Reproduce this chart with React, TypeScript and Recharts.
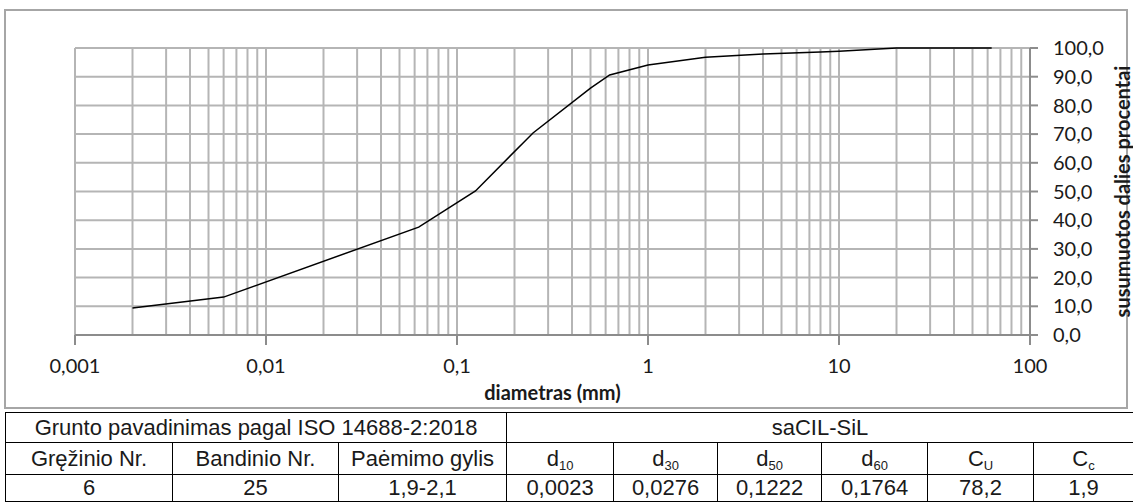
import {
  LineChart,
  Line,
  XAxis,
  YAxis,
  CartesianGrid,
  ReferenceLine,
} from "recharts";

// grain size (mm) and cumulative passing (%)
const sizes = [0.002, 0.006, 0.063, 0.125, 0.25, 0.5, 0.63, 1, 2, 4, 8, 10, 20, 63];
const passing = [9.4, 13.2, 37.6, 50.2, 70.4, 86.0, 90.6, 94.1, 96.8, 97.9, 98.6, 98.9, 100, 100];

const xTicks = [0.001, 0.01, 0.1, 1, 10, 100];
const yTicks = [0, 10, 20, 30, 40, 50, 60, 70, 80, 90, 100];

const tableTitle = "Grunto pavadinimas pagal ISO 14688-2:2018";
const soilName = "saCIL-SiL";
const headMain = ["Gręžinio Nr.", "Bandinio Nr.", "Paėmimo gylis"];
const headParams = [
  ["d", "10"],
  ["d", "30"],
  ["d", "50"],
  ["d", "60"],
  ["C", "U"],
  ["C", "c"],
];
const rowValues = ["6", "25", "1,9-2,1", "0,0023", "0,0276", "0,1222", "0,1764", "78,2", "1,9"];
const colWidths = [167, 166, 168, 107, 104, 104, 106, 106, 100];

const data = sizes.map((d, i) => ({ d, p: passing[i] }));

// minor grid values 1..9 x 10^k for the log axis
const gridValues: number[] = [];
xTicks.slice(0, -1).forEach((dec) => {
  for (let m = 1; m <= 9; m++) gridValues.push(+(dec * m).toPrecision(3));
});

const fmtX = (v: number) => String(v).replace(".", ",");
const fmtY = (v: number) => v.toFixed(1).replace(".", ",");

const GRID = "#b5b5b5";
const AXIS = "#8c8c8c";
const TXT = "#1a1a1a";

const YTitle = (props: any) => {
  const vb = props.viewBox || {};
  const cx = vb.x + vb.width - 8;
  const cy = vb.y + vb.height / 2;
  return (
    <text
      x={cx}
      y={cy}
      transform={`rotate(-90, ${cx}, ${cy})`}
      textAnchor="middle"
      dominantBaseline="central"
      fontFamily="Lato"
      fontWeight="bold"
      fontSize={20}
      fill={TXT}
    >
      susumuotos dalies procentai
    </text>
  );
};

const cell: React.CSSProperties = {
  border: "1.5px solid #000",
  textAlign: "center",
  padding: 0,
  whiteSpace: "nowrap",
  lineHeight: "24px",
};

const subStyle: React.CSSProperties = { fontSize: 13, verticalAlign: "-4px", lineHeight: 0 };

export default function App() {
  return (
    <div
      style={{
        position: "absolute",
        left: 0,
        top: 0,
        width: 1133,
        height: 502,
        background: "#fff",
        overflow: "hidden",
      }}
    >
      <div
        style={{
          position: "absolute",
          left: 4,
          top: 9,
          width: 1124,
          height: 400,
          border: "2px solid #a6a6a6",
          boxSizing: "border-box",
        }}
      />
      <div style={{ position: "absolute", left: 0, top: 0 }}>
        <LineChart
          width={1133}
          height={409}
          data={data}
          margin={{ top: 48, left: 75, right: 3, bottom: 4 }}
        >
          <CartesianGrid stroke={GRID} strokeWidth={2} vertical={false} />
          {gridValues.map((v) => (
            <ReferenceLine key={v} x={v} stroke={GRID} strokeWidth={2} />
          ))}
          <XAxis
            dataKey="d"
            type="number"
            scale="log"
            domain={[0.001, 100]}
            ticks={xTicks}
            allowDataOverflow
            height={70}
            tickSize={10}
            tickMargin={14}
            tickFormatter={fmtX}
            tick={{ fill: TXT, fontSize: 20, fontFamily: "Lato" }}
            axisLine={{ stroke: AXIS, strokeWidth: 2 }}
            tickLine={{ stroke: AXIS, strokeWidth: 2 }}
            label={{
              value: "diametras (mm)",
              position: "insideBottom",
              offset: 5,
              fill: TXT,
              fontSize: 20,
              fontWeight: "bold",
              fontFamily: "Lato",
            }}
          />
          <YAxis
            orientation="right"
            type="number"
            domain={[0, 100]}
            ticks={yTicks}
            width={100}
            tickSize={8}
            tickMargin={15}
            tickFormatter={fmtY}
            tick={{ fill: TXT, fontSize: 20, fontFamily: "Lato", textAnchor: "start" }}
            axisLine={{ stroke: AXIS, strokeWidth: 2 }}
            tickLine={{ stroke: AXIS, strokeWidth: 2 }}
            label={<YTitle />}
          />
          <Line
            dataKey="p"
            type="linear"
            stroke="#000"
            strokeWidth={1.5}
            dot={false}
            isAnimationActive={false}
          />
        </LineChart>
      </div>
      <table
        style={{
          position: "absolute",
          left: 5,
          top: 412,
          width: 1128,
          borderCollapse: "collapse",
          tableLayout: "fixed",
          fontFamily: "'Liberation Sans', Arial, sans-serif",
          fontSize: 22,
          color: TXT,
        }}
      >
        <colgroup>
          {colWidths.map((w, i) => (
            <col key={i} style={{ width: w }} />
          ))}
        </colgroup>
        <tbody>
          <tr style={{ height: 30 }}>
            <td style={cell} colSpan={3}>
              {tableTitle}
            </td>
            <td style={cell} colSpan={6}>
              {soilName}
            </td>
          </tr>
          <tr style={{ height: 32 }}>
            {headMain.map((h) => (
              <td key={h} style={cell}>
                {h}
              </td>
            ))}
            {headParams.map(([b, s], i) => (
              <td key={i} style={cell}>
                {b}
                <span style={subStyle}>{s}</span>
              </td>
            ))}
          </tr>
          <tr style={{ height: 27 }}>
            {rowValues.map((v, i) => (
              <td key={i} style={cell}>
                {v}
              </td>
            ))}
          </tr>
        </tbody>
      </table>
    </div>
  );
}
